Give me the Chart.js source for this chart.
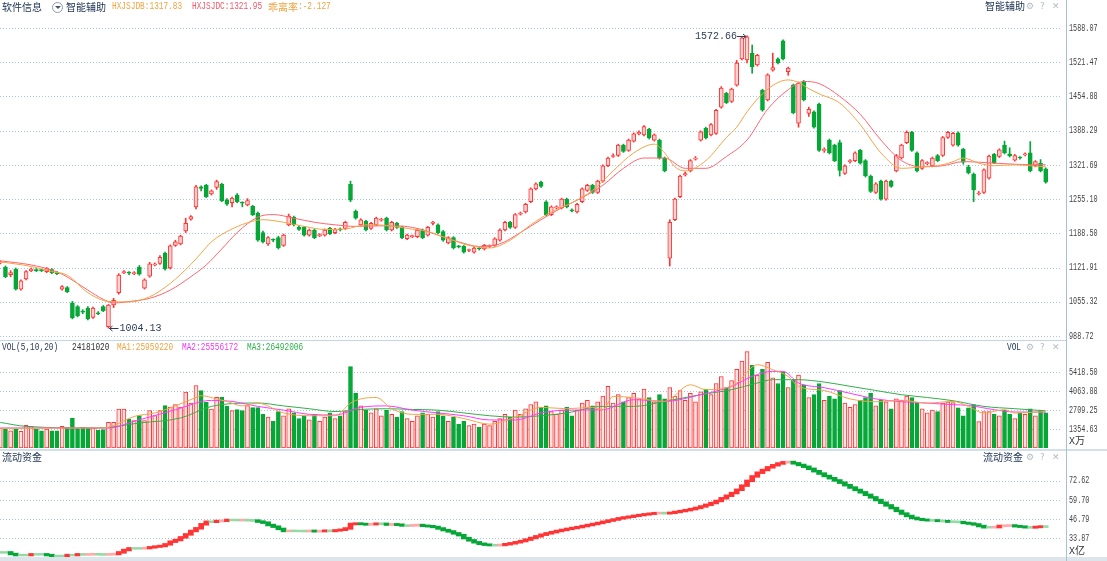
<!DOCTYPE html>
<html><head><meta charset="utf-8">
<script src="https://cdn.jsdelivr.net/npm/chart.js@4"></script>
<style>
html,body{margin:0;padding:0;background:#fff;width:1107px;height:561px;overflow:hidden;position:relative}
canvas{position:absolute;left:0}
.t{position:absolute;white-space:nowrap;line-height:12px;height:12px}
.cn{font-family:'Noto Sans CJK SC',sans-serif;font-size:10px;color:#1b3151}
.m{font-family:'Liberation Mono',monospace;font-size:10px;transform:scaleX(.78);transform-origin:0 0}
.ic{font-family:'DejaVu Sans',sans-serif;font-size:9px;color:#b4bcc4}
.ln{position:absolute;}
</style></head>
<body>
<canvas id="main" width="1107" height="340" style="top:0"></canvas>
<canvas id="vol" width="1107" height="108" style="top:341px"></canvas>
<canvas id="flow" width="1107" height="106" style="top:451px"></canvas>

<div class="ln" style="left:0;top:340px;width:1066px;height:1px;background:#c4d6e4"></div>
<div class="ln" style="left:0;top:449px;width:1107px;height:2px;background:#d3dfe9"></div>
<div class="ln" style="left:0;top:557px;width:1107px;height:4px;background:#dde4ea"></div>
<div class="ln" style="left:1066px;top:0;width:1px;height:561px;background:#a3c2d8"></div>

<div class="t cn" style="left:2px;top:1px">软件信息</div>
<div class="ln" style="left:52px;top:2px;width:9px;height:9px;border:1px solid #8d9aa8;border-radius:50%"></div>
<div class="ln" style="left:54.5px;top:6px;width:0;height:0;border-left:3px solid transparent;border-right:3px solid transparent;border-top:3px solid #44546a"></div>
<div class="t cn" style="left:66px;top:1px">智能辅助</div>
<div class="t m" style="left:112px;top:1px;color:#eea441">HXJSJDB:1317.83</div>
<div class="t m" style="left:192px;top:1px;color:#f2596a">HXJSJDC:1321.95</div>
<div class="t cn" style="left:268px;top:1px;color:#eea441">乖离率</div>
<div class="t m" style="left:298px;top:1px;color:#eea441">:-2.127</div>
<div class="t cn" style="left:985px;top:0px">智能辅助</div>
<div class="t ic" style="left:1026px;top:0px">⚙</div>
<div class="t ic" style="left:1040px;top:0px">?</div>
<div class="t ic" style="left:1052px;top:0px">✕</div>

<div class="t m" style="left:2px;top:342px;color:#2a3a55">VOL(5,10,20)</div>
<div class="t m" style="left:72px;top:342px;color:#333">24181020</div>
<div class="t m" style="left:117px;top:342px;color:#eea441">MA1:25959220</div>
<div class="t m" style="left:182px;top:342px;color:#f03cf0">MA2:25556172</div>
<div class="t m" style="left:247px;top:342px;color:#2fb04a">MA3:26492006</div>
<div class="t m" style="left:1007px;top:342px;color:#1b3151">VOL</div>
<div class="t ic" style="left:1026px;top:341px">⚙</div>
<div class="t ic" style="left:1040px;top:341px">?</div>
<div class="t ic" style="left:1052px;top:341px">✕</div>
<div class="t" style="left:1069px;top:434px;font-family:'Liberation Mono';font-size:10px;color:#333">X<span style="font-family:'Noto Sans CJK SC'">万</span></div>

<div class="t cn" style="left:2px;top:451px">流动资金</div>
<div class="t cn" style="left:983px;top:451px">流动资金</div>
<div class="t ic" style="left:1026px;top:451px">⚙</div>
<div class="t ic" style="left:1040px;top:451px">?</div>
<div class="t ic" style="left:1052px;top:451px">✕</div>
<div class="t" style="left:1069px;top:544px;font-family:'Liberation Mono';font-size:10px;color:#333">X<span style="font-family:'Noto Sans CJK SC'">亿</span></div>

<script>
// ---------- data ----------
const opens = [
1131,1123,1108,1119,1080,1100,1116,1118,1117,1114,
1118,1112,1080,1083,1053,1046,1037,1043,1025,1033,
1046,1007,1049,1073,1112,1112,1110,1123,1082,1105,
1127,1130,1150,1121,1165,1168,1193,1216,1240,1279,
1282,1265,1278,1284,1253,1248,1263,1248,1244,1241,
1228,1190,1168,1176,1180,1165,1205,1220,1200,1200,
1185,1195,1184,1185,1198,1190,1196,1198,1284,1232,
1205,1212,1198,1205,1214,1218,1195,1208,1200,1178,
1182,1182,1195,1185,1208,1205,1192,1170,1180,1163,
1163,1155,1152,1159,1158,1163,1165,1175,1195,1210,
1200,1226,1230,1250,1275,1288,1250,1225,1238,1238,
1255,1234,1230,1250,1272,1282,1268,1290,1320,1338,
1340,1360,1350,1368,1382,1380,1391,1370,1370,1335,
1140,1215,1260,1302,1310,1333,1370,1393,1380,1383,
1434,1461,1445,1477,1528,1526,1539,1516,1467,1448,
1506,1528,1563,1503,1477,1403,1484,1422,1425,1440,
1350,1370,1360,1365,1305,1328,1330,1350,1330,1300,
1268,1290,1255,1290,1310,1335,1365,1385,1345,1315,
1324,1320,1340,1340,1375,1360,1384,1352,1318,1304,
1265,1268,1296,1342,1338,1360,1343,1331,1336,1341,
1345,1320,1325,1314];
const highs = [
1135,1125,1116,1121,1098,1116,1121,1120,1119,1122,
1120,1114,1087,1085,1056,1048,1040,1046,1045,1036,
1048,1050,1062,1110,1116,1114,1114,1126,1100,1132,
1131,1145,1152,1166,1175,1185,1218,1223,1282,1281,
1284,1273,1292,1286,1256,1259,1266,1250,1256,1243,
1230,1193,1182,1178,1183,1187,1226,1222,1203,1202,
1197,1197,1188,1197,1200,1198,1199,1212,1290,1234,
1217,1214,1210,1220,1218,1220,1212,1210,1202,1187,
1185,1197,1197,1202,1212,1207,1194,1182,1182,1165,
1165,1158,1162,1161,1167,1166,1180,1197,1212,1212,
1227,1230,1247,1277,1287,1290,1252,1242,1242,1257,
1257,1236,1247,1277,1284,1284,1292,1322,1337,1343,
1362,1362,1372,1384,1388,1398,1393,1382,1372,1337,
1215,1257,1302,1308,1332,1338,1388,1395,1402,1430,
1474,1463,1471,1525,1571,1572.66,1555,1537,1469,1499,
1539,1530,1565,1512,1479,1483,1486,1434,1427,1442,
1355,1372,1362,1370,1322,1332,1347,1352,1332,1302,
1287,1292,1292,1292,1342,1362,1388,1387,1347,1332,
1328,1337,1342,1377,1387,1385,1386,1354,1321,1306,
1270,1314,1341,1344,1353,1368,1355,1342,1338,1345,
1367,1330,1332,1316];
const lows = [
1129,1102,1104,1078,1078,1098,1114,1114,1114,1112,
1110,1108,1078,1073,1022,1026,1032,1020,1023,1030,
1036,1004.13,1044,1070,1110,1108,1108,1107,1080,1103,
1125,1128,1117,1119,1163,1166,1190,1214,1236,1271,
1258,1263,1274,1250,1243,1240,1248,1240,1242,1223,
1173,1170,1165,1172,1158,1163,1203,1203,1194,1183,
1183,1178,1182,1183,1186,1188,1193,1196,1250,1216,
1203,1193,1196,1203,1212,1193,1193,1198,1178,1176,
1180,1180,1178,1183,1205,1188,1173,1168,1158,1160,
1150,1153,1150,1156,1156,1161,1163,1173,1193,1198,
1198,1224,1228,1248,1273,1278,1223,1223,1236,1236,
1238,1230,1228,1248,1270,1266,1266,1288,1318,1336,
1338,1346,1348,1366,1380,1378,1372,1368,1333,1308,
1125,1213,1258,1300,1308,1331,1368,1372,1378,1381,
1432,1441,1443,1475,1526,1520,1500,1514,1426,1446,
1504,1518,1526,1496,1421,1395,1446,1416,1393,1348,
1346,1343,1328,1300,1303,1325,1328,1323,1298,1268,
1266,1253,1253,1278,1308,1333,1363,1348,1308,1313,
1322,1318,1328,1338,1373,1358,1358,1323,1304,1250,
1263,1266,1294,1324,1336,1343,1337,1329,1333,1339,
1308,1318,1308,1286];
const closes = [
1133,1104,1112,1080,1096,1114,1119,1116,1116,1120,
1112,1110,1085,1075,1024,1028,1035,1022,1043,1032,
1038,1049,1058,1107,1113,1111,1112,1109,1098,1129,
1129,1142,1119,1164,1172,1183,1208,1221,1279,1276,
1260,1271,1289,1252,1245,1257,1250,1247,1252,1225,
1175,1172,1180,1175,1160,1185,1222,1205,1196,1185,
1195,1180,1185,1195,1188,1196,1195,1210,1253,1218,
1215,1195,1208,1218,1215,1195,1210,1200,1180,1185,
1183,1195,1180,1200,1210,1190,1175,1180,1160,1162,
1152,1156,1160,1158,1165,1164,1178,1195,1210,1200,
1225,1228,1245,1275,1285,1280,1225,1240,1240,1255,
1240,1232,1245,1275,1282,1268,1290,1320,1335,1340,
1360,1348,1370,1382,1385,1396,1374,1380,1335,1310,
1210,1255,1300,1305,1330,1335,1386,1374,1400,1428,
1471,1443,1469,1520,1569,1571,1513,1535,1428,1497,
1511,1520,1528,1510,1423,1481,1448,1430,1395,1350,
1352,1345,1330,1311,1320,1330,1345,1325,1300,1270,
1285,1255,1290,1280,1340,1360,1385,1350,1310,1330,
1325,1335,1330,1375,1385,1383,1360,1327,1306,1273,
1267,1312,1339,1326,1351,1345,1339,1340,1335,1343,
1310,1328,1310,1288];
const volumes = [
1426,1355,1233,1355,1184,1612,1540,1355,1233,1355,
1233,1233,1540,1474,2139,1380,1474,1426,1426,1260,
1307,1825,1825,2780,2780,2068,1947,2303,1947,2659,
2303,2659,3016,2923,3087,2923,3993,3208,4442,4085,
3251,2780,3608,3608,2966,2659,2731,2659,3016,2874,
2874,2400,2200,1900,2600,2300,2800,2500,2100,2300,
2000,2400,1900,2200,2500,2100,2300,2600,5800,3900,
3000,2700,2500,2800,2300,2700,2400,2200,2600,2100,
1900,2300,2500,2400,2200,2600,2300,1900,2200,1700,
1900,1600,1700,1500,1700,1600,1900,2100,2400,2200,
2700,2400,2800,3100,3300,2900,3000,2600,2400,2700,
2900,2300,2700,3200,3400,3000,3300,3700,4400,3200,
3800,3300,3600,3900,3500,4200,3600,3300,3800,3500,
4300,3700,4100,3400,3900,3300,4000,4200,3800,4600,
5100,4300,4800,5600,6200,6870,5900,5200,5600,6100,
5000,4600,5400,4300,4900,5200,4500,3600,3800,4600,
3400,3700,3500,4100,3200,2900,3100,3400,3600,3900,
3000,3400,3300,2800,3500,3400,3700,3600,3200,2800,
2500,2700,2600,3200,3300,3230,2870,2300,2870,3100,
1875,2590,2600,2400,2300,2700,2400,2100,2500,2400,
2800,2300,2700,2500];
const flow = [
24.4,24.4,23.3,22.6,22.6,22.6,23.1,23.1,23.1,22.6,
22.0,22.0,22.0,22.6,22.6,23.1,23.0,23.1,23.2,23.1,
23.0,23.1,23.3,24.4,26.0,27.1,27.1,27.1,27.3,27.8,
28.3,28.7,29.8,31.6,32.7,34.5,36.5,38.8,40.6,43.3,
45.0,45.0,45.5,45.7,46.2,46.2,46.1,46.2,46.0,45.8,
45.1,44.4,42.8,41.7,40.2,38.8,38.9,38.8,38.8,38.7,
38.9,38.6,38.7,39.0,38.8,39.2,39.6,40.5,43.5,43.8,
43.5,43.2,43.4,43.7,43.6,43.1,43.3,43.0,42.5,42.4,
42.6,42.8,42.3,42.0,41.5,40.5,39.4,38.5,37.2,36.0,
34.0,32.5,31.2,30.2,29.6,29.3,29.2,29.4,29.9,30.5,
31.2,32.0,33.0,34.1,35.2,36.3,37.2,38.0,38.8,39.5,
40.2,40.8,41.4,42.1,42.8,43.5,44.2,45.0,45.8,46.5,
47.3,47.9,48.4,49.0,49.5,50.0,50.4,50.8,50.9,50.7,
51.0,51.6,52.2,52.8,53.5,54.3,55.3,56.4,57.6,59.0,
60.8,62.5,64.3,66.5,69.3,72.5,75.5,78.0,79.8,81.6,
83.0,84.2,85.0,85.2,84.3,83.2,82.0,80.6,79.0,77.4,
75.8,74.3,72.8,71.3,69.6,68.0,66.4,64.8,63.1,61.4,
59.6,57.8,56.0,54.2,52.3,50.5,48.9,47.6,46.8,46.3,
46.0,45.9,45.6,45.4,45.1,45.0,44.8,44.2,43.8,43.2,
42.1,41.3,41.3,41.4,42.2,42.4,42.5,42.0,41.7,41.3,
41.2,41.5,41.8,41.7];

// indicator lines (bar index, value)
const jdbIdx = [0,6,10,13,17,21,25,29,33,37,39,41,45,49,51,55,59,63,67,71,75,79,83,87,91,95,99,103,107,111,115,119,123,127,129,131,133,137,141,143,145,148,151,153,155,157,159,163,167,171,175,179,183,185,187,190,193,197,200,203];
const jdbVal = [1133,1124,1114,1107,1073,1056,1055,1065,1091,1128,1150,1172,1197,1212,1215,1210,1202,1196,1197,1205,1204,1198,1192,1178,1165,1160,1175,1205,1230,1248,1272,1310,1345,1362,1345,1318,1310,1330,1375,1395,1425,1460,1482,1487,1482,1470,1460,1442,1400,1345,1315,1318,1322,1328,1335,1325,1320,1322,1320,1317.83];
const jdcIdx = [0,6,10,12,15,17,20,22,26,29,33,37,40,43,46,50,53,57,61,65,69,73,77,81,85,89,93,97,101,105,109,113,117,121,125,129,133,137,141,145,149,153,156,159,163,167,171,175,179,183,187,190,193,197,200,203];
const jdcVal = [1135,1127,1117,1109,1091,1078,1060,1053,1057,1062,1078,1104,1127,1158,1190,1220,1225,1218,1210,1205,1202,1203,1203,1198,1185,1172,1163,1168,1190,1215,1238,1258,1282,1315,1335,1335,1315,1315,1338,1370,1430,1468,1484,1480,1455,1420,1370,1330,1318,1320,1328,1327,1325,1323,1322,1321.95];
const ma1Idx = [0,10,20,22,26,30,34,38,39,42,44,47,50,55,60,65,68,70,73,76,80,85,90,95,100,105,110,115,117,119,123,129,134,137,141,143,147,150,153,155,160,165,170,175,180,185,188,191,195,197,203];
const ma1Val = [1400,1420,1430,1600,2250,2500,3000,3600,3730,3500,3320,3000,3200,2500,2300,2300,3200,3500,3600,2800,2400,2400,2100,1700,2200,2900,2800,2900,2730,3680,3590,3320,4510,4160,4300,4630,5940,5580,5100,4390,4100,3500,3300,3400,3200,3320,2966,2495,2731,2495,2596];
const ma2Idx = [0,21,26,34,41,45,50,55,60,65,70,75,80,85,90,95,100,105,110,117,123,129,136,142,146,150,152,155,160,165,170,175,180,185,188,193,197,203];
const ma2Val = [1426,1426,1900,2731,3394,3322,2966,2700,2400,2350,2900,3000,2700,2500,2300,2000,2000,2500,2700,2731,3444,3322,3800,4392,5105,5462,5462,4634,4300,3900,3500,3300,3200,3087,3037,2731,2567,2556];
const ma3Idx = [0,5,19,27,35,41,50,55,60,65,70,75,80,85,90,95,100,105,110,117,123,129,136,142,147,150,155,160,165,170,175,180,185,191,197,203];
const ma3Val = [1825,1540,1426,1783,2139,2966,3208,3000,2800,2600,2750,2800,2750,2700,2500,2300,2200,2300,2500,2966,2966,3322,3800,4157,4634,4870,4870,4700,4400,4100,3800,3600,3372,2966,2802,2649];

const priceTicks = [988.72,1055.32,1121.91,1188.50,1255.10,1321.69,1388.29,1454.88,1521.47,1588.07];
const volTicks = [1354.63,2709.25,4063.88,5418.50];
const flowTicks = [33.87,46.79,59.70,72.62];

// ---------- drawing ----------
Chart.defaults.animation = false;
Chart.defaults.plugins.legend.display = false;
Chart.defaults.plugins.tooltip.enabled = false;

const days = closes.map((_, i) => i);
const up = days.map(i => closes[i] >= opens[i]);
const RED = '#ff3434', PINK = '#ffd2d2', GREEN = '#05a737';
const xScale = () => ({type:'linear', min:-0.06, max:206.94, offset:false, bounds:'ticks', display:false,
  grid:{offset:false}, ticks:{display:false}});

function gridPlugin(ticks){
  return {
    id:'grid',
    beforeDatasetsDraw(chart){
      const ctx = chart.ctx, y = chart.scales.y;
      ctx.save(); ctx.strokeStyle = '#a9c7d9'; ctx.lineWidth = 1; ctx.setLineDash([1,2]);
      ticks.forEach(v => { const py = Math.round(y.getPixelForValue(v)) + 0.5;
        ctx.beginPath(); ctx.moveTo(0, py); ctx.lineTo(1062, py); ctx.stroke(); });
      ctx.restore();
    },
    afterDraw(chart){
      const ctx = chart.ctx, y = chart.scales.y;
      ctx.save(); ctx.fillStyle = '#444'; ctx.font = '10px "Liberation Mono"'; ctx.textBaseline = 'middle';
      ticks.forEach(v => { const py = y.getPixelForValue(v);
        ctx.save(); ctx.translate(1069, py); ctx.scale(0.68, 1); ctx.fillText(v.toFixed(2), 0, 0); ctx.restore(); });
      ctx.restore();
    }
  };
}
const markPlugin = {
  id:'marks',
  afterDatasetsDraw(chart){
    const ctx = chart.ctx, xs = chart.scales.x, ys = chart.scales.y;
    const hi = highs.indexOf(Math.max(...highs)), lo = lows.indexOf(Math.min(...lows));
    ctx.save(); ctx.font = '10px "Liberation Mono"'; ctx.fillStyle = '#2b3d57'; ctx.strokeStyle = '#2b3d57';
    ctx.textBaseline = 'middle'; ctx.lineWidth = 1;
    let px = xs.getPixelForValue(hi), py = Math.round(ys.getPixelForValue(highs[hi])) + 0.5;
    ctx.beginPath(); ctx.moveTo(px - 10, py); ctx.lineTo(px - 1, py);
    ctx.moveTo(px - 4, py - 2.5); ctx.lineTo(px - 1, py); ctx.lineTo(px - 4, py + 2.5); ctx.stroke();
    ctx.textAlign = 'right'; ctx.fillText(highs[hi].toFixed(2), px - 10, py);
    px = xs.getPixelForValue(lo); py = Math.round(ys.getPixelForValue(lows[lo])) + 0.5;
    ctx.beginPath(); ctx.moveTo(px + 1, py); ctx.lineTo(px + 10, py);
    ctx.moveTo(px + 4, py - 2.5); ctx.lineTo(px + 1, py); ctx.lineTo(px + 4, py + 2.5); ctx.stroke();
    ctx.textAlign = 'left'; ctx.fillText(lows[lo].toFixed(2), px + 11, py);
    ctx.restore();
  }
};
function line(idx, vals, color){
  return {type:'line', data: idx.map((x, k) => ({x, y: vals[k]})), borderColor: color, borderWidth: 1,
    pointRadius: 0, cubicInterpolationMode: 'monotone', order: 0};
}

new Chart(document.getElementById('main'), {
  type:'bar',
  data:{datasets:[
    {data: days.map(i => ({x:i, y:[lows[i], highs[i]]})), backgroundColor: days.map(i => up[i] ? RED : GREEN),
     barThickness:1, grouped:false, order:2},
    {data: days.map(i => ({x:i, y:[opens[i], closes[i]]})), backgroundColor: days.map(i => up[i] ? PINK : GREEN),
     borderColor: days.map(i => up[i] ? RED : GREEN), borderWidth:1, borderSkipped:false, barThickness:4,
     minBarLength:1, grouped:false, order:1},
    line(jdbIdx, jdbVal, '#f2a447'),
    line(jdcIdx, jdcVal, '#ff6470')
  ]},
  options:{responsive:false, layout:{padding:{top:18, right:41, bottom:0, left:0}},
    scales:{x:xScale(), y:{display:false, min:980.9, max:1607.53}}},
  plugins:[gridPlugin(priceTicks), markPlugin]
});

new Chart(document.getElementById('vol'), {
  type:'bar',
  data:{datasets:[
    {data: days.map(i => ({x:i, y:volumes[i]})), backgroundColor: days.map(i => up[i] ? '#ffe2e2' : GREEN),
     borderColor: days.map(i => up[i] ? RED : GREEN), borderWidth:1, borderSkipped:false, barThickness:4,
     grouped:false, order:1},
    line(ma1Idx, ma1Val, '#f0a548'),
    line(ma2Idx, ma2Val, '#ff38ff'),
    line(ma3Idx, ma3Val, '#31b04a')
  ]},
  options:{responsive:false, layout:{padding:{top:2, right:41, bottom:1, left:0}},
    scales:{x:xScale(), y:{display:false, min:0, max:7486}}},
  plugins:[gridPlugin(volTicks)]
});

const flowColor = days.map(i => {
  const d = i === 0 ? 0 : flow[i] - flow[i - 1];
  if (d > 0.25) return '#ff3434';
  if (d > 0) return '#ffa9a9';
  if (d < -0.25) return '#05a737';
  return '#95d9a5';
});
new Chart(document.getElementById('flow'), {
  type:'bar',
  data:{datasets:[
    {data: days.map(i => { const p = i === 0 ? flow[0] : flow[i - 1];
       return {x:i, y:[Math.min(p, flow[i]) - 0.6, Math.max(p, flow[i]) + 0.6]}; }),
     backgroundColor: flowColor, barThickness:5, grouped:false}
  ]},
  options:{responsive:false, layout:{padding:{top:1, right:41, bottom:0, left:0}},
    scales:{x:xScale(), y:{display:false, min:21.3, max:91.92}}},
  plugins:[gridPlugin(flowTicks)]
});
</script>
</body></html>
